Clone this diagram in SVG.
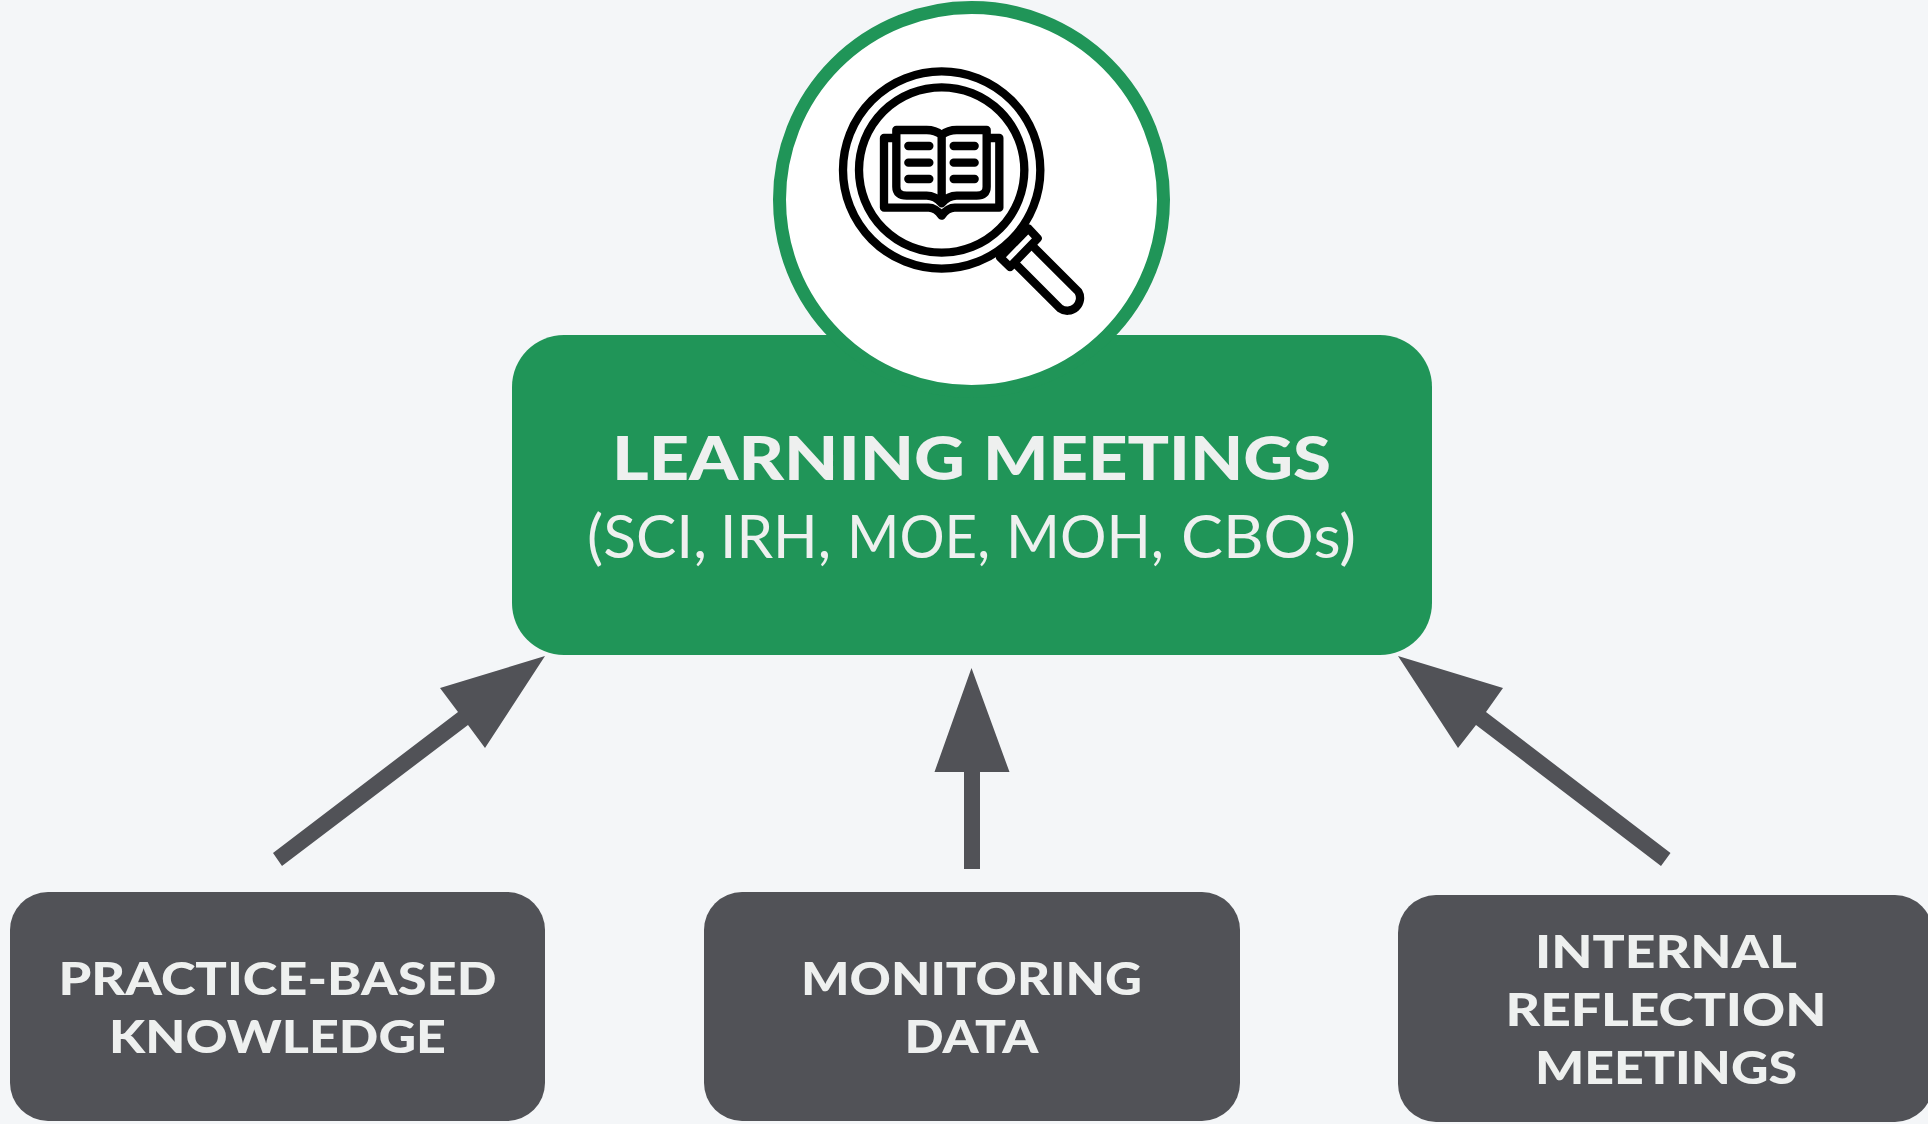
<svg xmlns="http://www.w3.org/2000/svg" width="1928" height="1124" viewBox="0 0 1928 1124">
<style>
.t{font-family:"Lato","Liberation Sans",sans-serif;fill:#eef0ef;}
.b{font-weight:900;font-size:46px;}
.g{fill:#515257;}
.ic{fill:none;stroke:#000;stroke-width:25;stroke-linecap:round;stroke-linejoin:round;}
</style>
<rect width="1928" height="1124" fill="#f4f6f8"/>
<g id="connectors" class="g">
<polygon points="545,656 485,748 468,725 282,866 273,853 458,712 440,688"/>
<polygon points="971.5,668 1009.5,772 980,772 980,869 964,869 964,772 934.5,772"/>
<polygon points="1398,656 1503,688 1486,712 1670.5,853 1661,866 1476,725 1458,748"/>
</g>
<g id="node-learning">
<rect x="512" y="335" width="920" height="320" rx="52" fill="#209558"/>
<circle cx="971.5" cy="199.5" r="192" fill="#fff" stroke="#209558" stroke-width="13"/>
<g id="icon" transform="translate(770,40) scale(0.33333)" class="ic">
<path d="M790,620 L925,755 A38,38 0 0 1 870,805 L740,675" fill="#fff"/>
<path d="M775,565 L803,595 L720,681 L690,652 Z" fill="#fff"/>
<circle cx="515" cy="390" r="296"/>
<circle cx="515" cy="390" r="248"/>
<path d="M367,294 H342 V503 H476 Q497,503 515,527 Q533,503 554,503 H688 V294 H660"/>
<path d="M515,285 Q495,270 470,270 H379 V440 Q379,467 410,467 H470 Q495,467 515,490 Q535,467 560,467 H620 Q650,467 650,440 V270 H560 Q535,270 515,285 V490"/>
<path d="M415,318 H478 M415,368 H478 M415,417 H478 M551,318 H614 M551,368 H614 M551,417 H614"/>
</g>
<text class="t" y="480" font-weight="900" font-size="61"><tspan x="612" textLength="353" lengthAdjust="spacingAndGlyphs">LEARNING</tspan> <tspan x="983" textLength="348" lengthAdjust="spacingAndGlyphs">MEETINGS</tspan></text>
<text class="t" y="558" font-weight="400" font-size="60"><tspan x="587" textLength="120" lengthAdjust="spacingAndGlyphs">(SCI,</tspan> <tspan x="720" textLength="111" lengthAdjust="spacingAndGlyphs">IRH,</tspan> <tspan x="847" textLength="143" lengthAdjust="spacingAndGlyphs">MOE,</tspan> <tspan x="1006" textLength="158" lengthAdjust="spacingAndGlyphs">MOH,</tspan> <tspan x="1181" textLength="175" lengthAdjust="spacingAndGlyphs">CBOs)</tspan></text>
</g>
<g id="node-practice">
<rect class="g" x="10" y="892" width="535" height="229" rx="38"/>
<text class="t b" x="277.5" y="995" text-anchor="middle" textLength="438" lengthAdjust="spacingAndGlyphs">PRACTICE-BASED</text>
<text class="t b" x="277.5" y="1053" text-anchor="middle" textLength="337" lengthAdjust="spacingAndGlyphs">KNOWLEDGE</text>
</g>
<g id="node-monitoring">
<rect class="g" x="704" y="892" width="536" height="229" rx="38"/>
<text class="t b" x="971.5" y="995" text-anchor="middle" textLength="341" lengthAdjust="spacingAndGlyphs">MONITORING</text>
<text class="t b" x="971.5" y="1053" text-anchor="middle" textLength="134" lengthAdjust="spacingAndGlyphs">DATA</text>
</g>
<g id="node-internal">
<rect class="g" x="1398" y="895" width="535" height="227" rx="38"/>
<text class="t b" x="1666" y="968" text-anchor="middle" textLength="262" lengthAdjust="spacingAndGlyphs">INTERNAL</text>
<text class="t b" x="1666" y="1026" text-anchor="middle" textLength="321" lengthAdjust="spacingAndGlyphs">REFLECTION</text>
<text class="t b" x="1666" y="1084" text-anchor="middle" textLength="262" lengthAdjust="spacingAndGlyphs">MEETINGS</text>
</g>
</svg>
